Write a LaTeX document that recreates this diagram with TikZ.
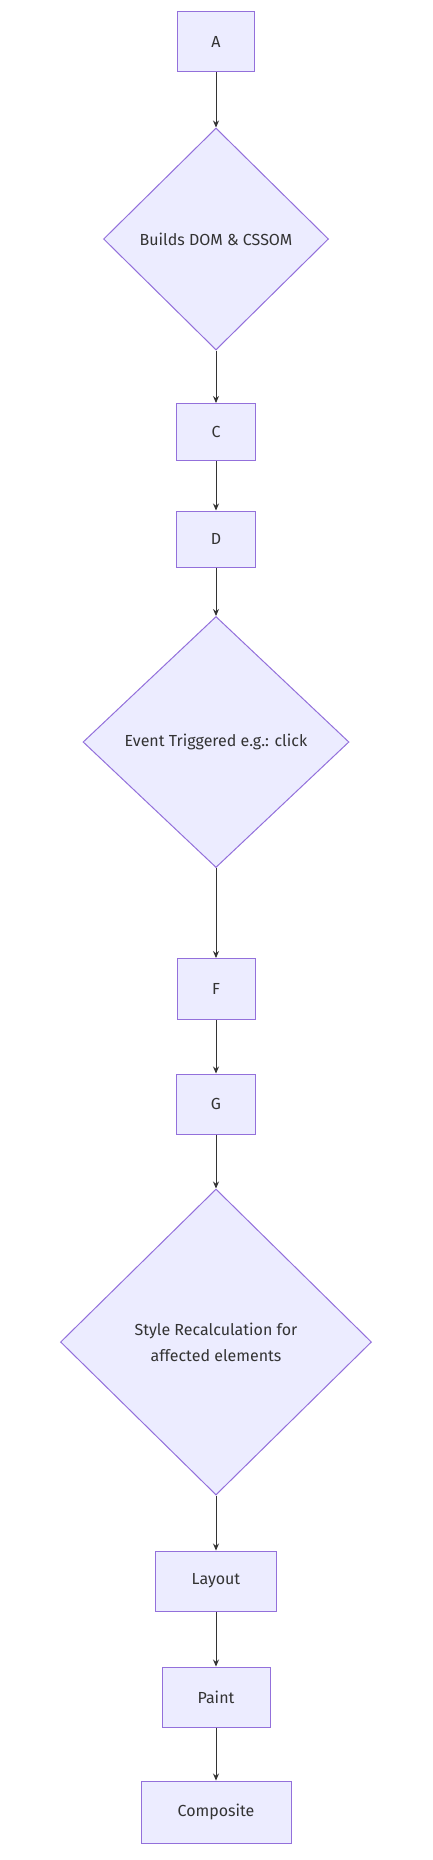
\documentclass[tikz,border=0pt]{standalone}
\usepackage{fontspec}
\setmainfont{Fira Sans}
\usepackage{tikz}
\usetikzlibrary{shapes.geometric,arrows.meta}
\definecolor{boxfill}{HTML}{ECECFF}
\definecolor{boxline}{HTML}{9370DB}
\definecolor{inktext}{HTML}{333333}

\begin{document}
\begin{tikzpicture}[x=1pt,y=1pt,yscale=-1,xscale=1,
  stepbox/.style={draw=boxline,fill=boxfill,line width=1pt,inner sep=0pt,
    text=inktext,font=\fontsize{16}{26}\selectfont,align=center},
  choice/.style={stepbox,diamond,aspect=1},
  link/.style={draw=inktext,line width=0.9pt,-{Stealth[length=7pt,width=6pt]}}]
\useasboundingbox (0,0) rectangle (432,1860);
\node [stepbox,minimum width=77pt,minimum height=60pt] (a) at (216,42) {A};
\node [choice,minimum width=225pt,minimum height=222pt] (b) at (216,239) {Builds DOM \& CSSOM};
\node [stepbox,minimum width=79pt,minimum height=57pt] (c) at (216,432) {C};
\node [stepbox,minimum width=79pt,minimum height=56pt] (d) at (216,539) {D};
\node [choice,minimum width=266pt,minimum height=251pt] (e) at (216,742) {Event Triggered e.g.: click};
\node [stepbox,minimum width=78pt,minimum height=61pt] (f) at (216,989) {F};
\node [stepbox,minimum width=79pt,minimum height=60pt] (g) at (216,1104) {G};
\node [choice,minimum width=311pt,minimum height=306pt] (h) at (216,1342) {Style Recalculation for\\ affected elements};
\node [stepbox,minimum width=121pt,minimum height=60pt] (layout) at (216,1581) {Layout};
\node [stepbox,minimum width=108pt,minimum height=60pt] (paint) at (216,1697) {Paint};
\node [stepbox,minimum width=150pt,minimum height=62pt] (composite) at (216,1812) {Composite};
\draw [link] (a) -- (b);
\draw [link] (b) -- (c);
\draw [link] (c) -- (d);
\draw [link] (d) -- (e);
\draw [link] (e) -- (f);
\draw [link] (f) -- (g);
\draw [link] (g) -- (h);
\draw [link] (h) -- (layout);
\draw [link] (layout) -- (paint);
\draw [link] (paint) -- (composite);
\end{tikzpicture}
\end{document}
